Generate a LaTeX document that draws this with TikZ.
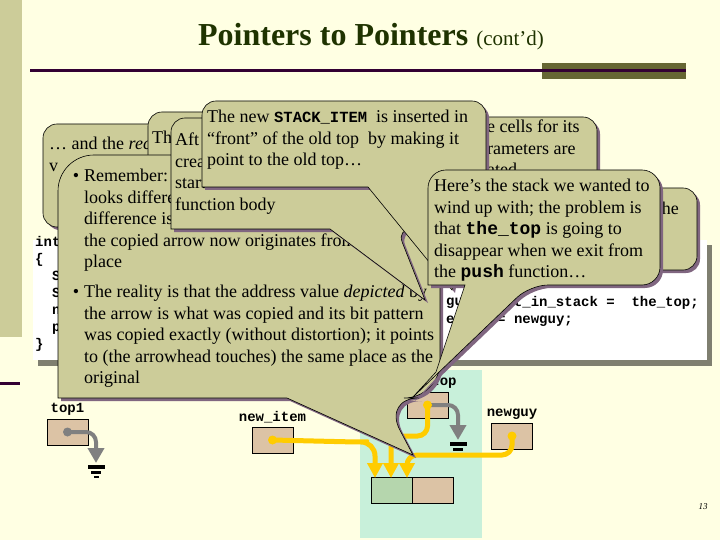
\documentclass[tikz,border=0pt]{standalone}
\usepackage{fontspec}
\setmainfont{Liberation Serif}
\setmonofont{Liberation Mono}
\usetikzlibrary{arrows.meta,positioning}
\definecolor{slidebg}{HTML}{FFFFE3}
\definecolor{stripe}{HTML}{CCCC99}
\definecolor{rulecol}{HTML}{330033}
\definecolor{olivebar}{HTML}{666633}
\definecolor{titlecol}{HTML}{1F3300}
\definecolor{bubfill}{HTML}{CCCC99}
\definecolor{bubshade}{HTML}{806680}
\definecolor{panel}{HTML}{C8F0DA}
\definecolor{cellfill}{HTML}{DCC3A5}
\definecolor{cellgreen}{HTML}{B5D6AD}
\definecolor{ptrgold}{HTML}{FFCC00}
\definecolor{ptrgray}{HTML}{808080}
\definecolor{codeshade}{HTML}{7F7F70}
\newcommand{\stk}[1]{{\fontsize{15.5}{17}\selectfont\ttfamily\bfseries #1}}
\newcommand{\kw}[1]{{\ttfamily\bfseries #1}}

\begin{document}
\begin{tikzpicture}[x=1pt, y=-1pt,
  bubble/.style={fill=bubfill, draw=black, line width=0.6pt,
    preaction={fill=bubshade, transform canvas={shift={(3pt,-3pt)}}}},
  bubtext/.style={font=\fontsize{18}{21.5}\selectfont, align=left, inner sep=0pt, anchor=north west},
  codetext/.style={font=\fontsize{14}{17}\selectfont\ttfamily\bfseries, inner sep=0pt, align=left},
  varlabel/.style={font=\fontsize{14}{15}\selectfont\ttfamily\bfseries, inner sep=0pt},
  cellbox/.style={draw=black, fill=cellfill, line width=0.8pt, minimum width=41pt, minimum height=26pt, inner sep=0pt},
  ptr/.style={draw=ptrgold, line width=5pt, -{Triangle[length=15pt,width=15pt]}},
  nullptr/.style={draw=ptrgray, line width=4pt, -{Triangle[length=15pt,width=16pt]}}
]
\useasboundingbox (0,0) rectangle (720,540);
\fill[slidebg] (0,0) rectangle (720,540);
\fill[stripe] (0,0) rectangle (22,337);
\fill[rulecol] (0,382) rectangle (20,385);

% title and rule
\node[font=\fontsize{32}{36}\selectfont\bfseries, text=titlecol] (title) at (371,37)
  {Pointers to Pointers {\fontsize{21}{24}\selectfont\mdseries (cont’d)}};
\fill[olivebar] (542,63) rectangle (686,79);
\draw[rulecol, line width=3pt] (30,70.5) -- (686,70.5);

% code listing behind the callouts
\fill[codeshade] (38,245) rectangle (712,366);
\fill[white] (33,240) rectangle (707,360);
\node[codetext, anchor=north west] (codeleft) at (35,236)
  {int\\\{\\\phantom{xx}S\\\phantom{xx}S\\\phantom{xx}n\\\phantom{xx}p\\\}};
\node[codetext, anchor=west] (codefrag1) at (446,303) {gu};
\node[codetext, anchor=west] (codefrag2) at (446,320) {e};
\node[codetext, anchor=east] (codeline1) at (699,303) {t\_in\_stack =\ \ the\_top;};
\node[codetext, anchor=west] (codeline2) at (497,321) {= newguy;};

% stack picture
\fill[panel] (360,370) rectangle (482,538);
\node[cellbox] (top1) at (67.5,432) {};
\node[varlabel, above=3pt of top1] (top1lbl) {top1};
\node[cellbox] (newitem) at (272.5,440) {};
\node[varlabel, above=3pt of newitem] (newitemlbl) {new\_item};
\node[cellbox] (top) at (427.5,405) {};
\node[varlabel] (toplbl) at (444,382) {top};
\node[cellbox] (newguy) at (512,436) {};
\node[varlabel, above=3pt of newguy] (newguylbl) {newguy};
\node[cellbox, fill=cellgreen] (copy) at (391.5,490) {};
\node[cellbox, right=0pt of copy] (copynext) {};

\coordinate (gnd1) at (96,463);
\coordinate (gnd2) at (458,440);
\coordinate (tipa) at (375,478);
\coordinate (tipb) at (391,478);
\coordinate (tipc) at (407,478);
\foreach \g in {gnd1,gnd2} {
  \fill[black] ([xshift=-8.5pt,yshift=-2pt]\g) rectangle ([xshift=8.5pt,yshift=-6pt]\g);
  \fill[black] ([xshift=-5pt,yshift=-8pt]\g) rectangle ([xshift=5pt,yshift=-11pt]\g);
  \fill[black] ([xshift=-2.5pt,yshift=-13pt]\g) rectangle ([xshift=2.5pt,yshift=-15pt]\g);
}
\draw[nullptr, rounded corners=10pt] (top1.center) -| (gnd1);
\draw[nullptr, rounded corners=10pt] (top.center) -| (gnd2);
\draw[ptr, rounded corners=14pt] (newitem.center) -- (355,442) -| (tipa);
\draw[ptr, rounded corners=10pt] (top.center) |- (391,436) -- (tipb);
\draw[ptr, rounded corners=10pt] (newguy.center) |- (407,455) -- (tipc);
\fill[ptrgold] (newitem.center) circle (4.5);
\fill[ptrgold] (top.center) circle (4.5);
\fill[ptrgold] (newguy.center) circle (4.5);
\fill[ptrgray] (top1.center) circle (4.5);

\node[font=\fontsize{9}{10}\selectfont\itshape, inner sep=0pt] (pagenum) at (703,507) {13};

% callouts, back to front
\draw[bubble, rounded corners=14pt] (43,124) rectangle (330,227);
\node[bubtext] (txta) at (49,137) {… and the \textit{rec}\\v};

\draw[bubble, rounded corners=14pt] (148,112) rectangle (400,200);
\node[bubtext] (txtb) at (152,131) {Th};

\draw[bubble] (58,270) [rounded corners=36pt] -- (58,155) -- (440,155) -- (440,398) -- (383,398)
  [sharp corners] -- (413,455) -- (287,398) -- (58,398) [rounded corners=36pt] -- cycle;
\node[bubtext] (txth1) at (84,169)
  {\llap{\textbullet\hspace{5pt}}Remember:\\looks differe\\difference is\\the copied arrow now originates from\\place};
\node[bubtext] (txth2) at (84,285)
  {\llap{\textbullet\hspace{5pt}}The reality is that the address value \textit{depicted} by\\the arrow is what was copied and its bit pattern\\was copied exactly (without distortion); it points\\to (the arrowhead touches) the same place as the\\original};

\draw[bubble] (171,180) [rounded corners=14pt] -- (171,118) -- (420,118) -- (420,229) -- (397,229)
  [sharp corners] -- (425,300) -- (330,229) -- (171,229) [rounded corners=14pt] -- cycle;
\node[bubtext] (txtc) at (175,133) {Aft\\crea\\starts\\function body};

\draw[bubble, rounded corners=14pt] (455,117) rectangle (597,200);
\node[bubtext] (txtd) at (487,120) {e cells for its\\rameters are\\ated};

\draw[bubble] (202,150) [rounded corners=14pt] -- (202,101) -- (486,101) -- (486,187) -- (470,187)
  [sharp corners] -- (452,290) -- (368,187) -- (202,187) [rounded corners=14pt] -- cycle;
\node[bubtext] (txte) at (207,110)
  {The new \stk{STACK\_ITEM}\ \ is inserted in\\“front” of the old top\ \ by making it\\point to the old top…};

\draw[bubble, rounded corners=14pt] (560,188) rectangle (697,270);
\node[bubtext, anchor=north east] (txtg) at (679,202) {the};

\draw[bubble] (428,230) [rounded corners=18pt] -- (428,170) -- (660,170) -- (660,285) -- (530,285)
  [sharp corners] -- (412,398) -- (436,372) -- (465,285) -- (428,285) [rounded corners=18pt] -- cycle;
\node[bubtext] (txtf) at (434,179)
  {Here’s the stack we wanted to\\wind up with; the problem is\\that \kw{the\_top} is going to\\disappear when we exit from\\the \kw{push} function…};
\end{tikzpicture}
\end{document}
